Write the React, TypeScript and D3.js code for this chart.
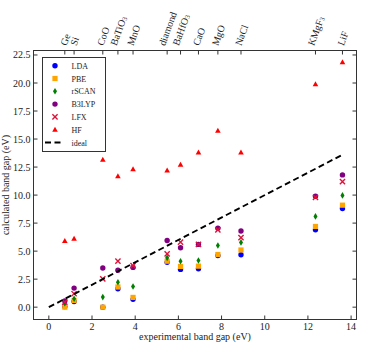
import * as d3 from 'd3';
import React, { useEffect, useRef } from 'react';

// materials and their experimental band gaps (eV)
const materials = ['Ge', 'Si', 'CoO', 'BaTiO|3', 'MnO', 'diamond', 'BaHfO|3', 'CaO', 'MgO', 'NaCl', 'KMgF|3', 'LiF'];
const expGap = [0.74, 1.17, 2.5, 3.2, 3.9, 5.48, 6.1, 6.93, 7.83, 8.9, 12.35, 13.6];

// calculated band gaps per method
const lda = [0.05, 0.5, 0.0, 1.65, 0.7, 4.0, 3.37, 3.43, 4.6, 4.68, 6.9, 8.8];
const pbe = [0.0, 0.6, 0.0, 1.8, 0.87, 4.1, 3.63, 3.66, 4.7, 5.1, 7.2, 9.1];
const rscan = [0.35, 0.75, 0.9, 2.23, 1.85, 4.4, 4.1, 4.17, 5.5, 5.78, 8.1, 9.97];
const b3lyp = [0.55, 1.7, 3.5, 3.3, 3.55, 5.95, 5.3, 5.6, 7.05, 6.8, 9.9, 11.8];
const lfx = [0.45, 1.2, 2.53, 4.1, 3.7, 4.76, 5.8, 5.6, 6.9, 6.2, 9.8, 11.2];
const hf = [5.9, 6.1, 13.15, 11.67, 12.3, 12.2, 12.7, 13.8, 15.75, 13.8, 19.9, 21.85];

const xTicks = [0, 2, 4, 6, 8, 10, 12, 14];
const yTicks = [0, 2.5, 5, 7.5, 10, 12.5, 15, 17.5, 20, 22.5];

const series = [
    { name: 'LDA', values: lda, shape: 'circle', color: '#0000ff' },
    { name: 'PBE', values: pbe, shape: 'square', color: '#ffa500' },
    { name: 'rSCAN', values: rscan, shape: 'thin_diamond', color: '#008000' },
    { name: 'B3LYP', values: b3lyp, shape: 'circle', color: '#800080' },
    { name: 'LFX', values: lfx, shape: 'x', color: '#dc143c' },
    { name: 'HF', values: hf, shape: 'triangle', color: '#ff0000' },
];

const FONT = '"Liberation Serif", "DejaVu Serif", serif';

export default function App() {
    const svgRef = useRef<SVGSVGElement>(null);

    useEffect(() => {
        if (!svgRef.current) return;
        const svg = d3.select(svgRef.current);
        svg.selectAll('*').remove();

        const width = 366, height = 351;
        const left = 33.5, right = 356.5, top = 50.5, bottom = 319.5;

        const x = d3.scaleLinear().domain([-0.71, 14.25]).range([left, right]);
        const y = d3.scaleLinear().domain([-1.1, 22.9]).range([bottom, top]);

        svg.attr('width', width).attr('height', height).attr('viewBox', [0, 0, width, height]);

        const axisColor = '#333';
        const tickLen = 4;

        // ideal line
        const ideal = d3.line<number>().x(d => x(d)).y(d => y(d));

        function drawMarker(g: any, shape: string, color: string, cx: number, cy: number) {
            if (shape === 'circle') {
                g.append('circle').attr('cx', cx).attr('cy', cy).attr('r', 2.7).attr('fill', color);
            } else if (shape === 'square') {
                g.append('rect').attr('x', cx - 2.6).attr('y', cy - 2.6).attr('width', 5.2).attr('height', 5.2).attr('fill', color);
            } else if (shape === 'thin_diamond') {
                g.append('path').attr('d', `M${cx},${cy - 3.3}L${cx + 2},${cy}L${cx},${cy + 3.3}L${cx - 2},${cy}Z`).attr('fill', color);
            } else if (shape === 'triangle') {
                g.append('path').attr('d', `M${cx},${cy - 3}L${cx + 2.8},${cy + 2}L${cx - 2.8},${cy + 2}Z`).attr('fill', color);
            } else if (shape === 'x') {
                g.append('path').attr('d', `M${cx - 2.6},${cy - 2.6}L${cx + 2.6},${cy + 2.6}M${cx - 2.6},${cy + 2.6}L${cx + 2.6},${cy - 2.6}`)
                    .attr('stroke', color).attr('stroke-width', 1.4).attr('fill', 'none');
            }
        }

        // scatter points
        const pts = svg.append('g');
        series.forEach(s => {
            s.values.forEach((v, i) => drawMarker(pts, s.shape, s.color, x(expGap[i]), y(v)));
        });

        svg.append('path')
            .attr('d', ideal([0, expGap[expGap.length - 1]]))
            .attr('stroke', '#000').attr('stroke-width', 1.9).attr('fill', 'none')
            .attr('stroke-dasharray', '6,3.5');

        // frame
        svg.append('rect').attr('x', left).attr('y', top).attr('width', right - left).attr('height', bottom - top)
            .attr('fill', 'none').attr('stroke', axisColor).attr('stroke-width', 1);

        const ticks = svg.append('g').attr('stroke', axisColor).attr('stroke-width', 1);
        xTicks.forEach(t => {
            ticks.append('line').attr('x1', x(t)).attr('x2', x(t)).attr('y1', bottom).attr('y2', bottom - tickLen);
        });
        yTicks.forEach(t => {
            ticks.append('line').attr('x1', left).attr('x2', left + tickLen).attr('y1', y(t)).attr('y2', y(t));
            ticks.append('line').attr('x1', right).attr('x2', right - tickLen).attr('y1', y(t)).attr('y2', y(t));
        });
        expGap.forEach(t => {
            ticks.append('line').attr('x1', x(t)).attr('x2', x(t)).attr('y1', top).attr('y2', top + tickLen);
        });

        const labels = svg.append('g').attr('font-family', FONT).attr('fill', '#222').attr('font-size', 10);
        xTicks.forEach(t => {
            labels.append('text').attr('x', x(t)).attr('y', 329.5).attr('text-anchor', 'middle').text(String(t));
        });
        yTicks.forEach(t => {
            labels.append('text').attr('x', 30.5).attr('y', y(t) + 3.5).attr('text-anchor', 'end').text(t.toFixed(1));
        });

        labels.append('text').attr('x', (left + right) / 2).attr('y', 340).attr('text-anchor', 'middle')
            .text('experimental band gap (eV)');
        labels.append('text').attr('transform', `translate(8.5,${(top + bottom) / 2}) rotate(-90)`)
            .attr('text-anchor', 'middle').text('calculated band gap (eV)');

        // top material labels, rotated 70 degrees, bbox centred on tick
        const ang = 70 * Math.PI / 180;
        materials.forEach((m, i) => {
            const [main, sub] = m.split('|');
            const t = labels.append('text').attr('dominant-baseline', 'central');
            t.append('tspan').text(main);
            if (sub) t.append('tspan').attr('font-size', 7).attr('dy', 2.5).text(sub);
            const w = (t.node() as SVGTextElement).getComputedTextLength();
            const h = 9;
            const ax = x(expGap[i]) - (w * Math.cos(ang)) / 2;
            const ay = 46.5 - (h / 2) * Math.cos(ang);
            t.attr('transform', `translate(${ax},${ay}) rotate(-70)`);
        });

        // legend
        const leg = svg.append('g').attr('font-family', FONT).attr('font-size', 8).attr('fill', '#222');
        leg.append('rect').attr('x', 42.5).attr('y', 57.5).attr('width', 63).attr('height', 94)
            .attr('fill', '#fff').attr('stroke', axisColor).attr('stroke-width', 1);
        series.forEach((s, i) => {
            const ly = 65.7 + i * 12.8;
            drawMarker(leg, s.shape, s.color, 55, ly);
            leg.append('text').attr('x', 71.5).attr('y', ly + 3).text(s.name);
        });
        const ly = 65.7 + 6 * 12.8;
        leg.append('line').attr('x1', 45).attr('x2', 64).attr('y1', ly).attr('y2', ly)
            .attr('stroke', '#000').attr('stroke-width', 1.9).attr('stroke-dasharray', '6,3.5');
        leg.append('text').attr('x', 71.5).attr('y', ly + 3).text('ideal');
    }, []);

    return (
        <svg ref={svgRef} style={{ position: 'absolute', top: 0, left: 0, background: '#fff' }}></svg>
    );
}
